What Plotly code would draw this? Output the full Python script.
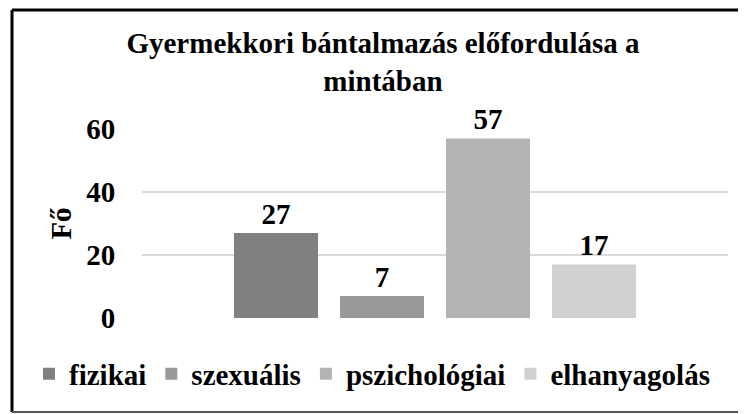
import plotly.graph_objects as go

categories = [""]
series_names = ["fizikai", "szexuális", "pszichológiai", "elhanyagolás"]
series_values = [27, 7, 57, 17]
series_colors = ["#808080", "#999999", "#b3b3b3", "#d0d0d0"]
y_ticks = [0, 20, 40, 60]

# page body margin offsets the figure by 8px; work in screen pixels
OFF = 8
SW, SH = 746, 414
W, H = SW - OFF, SH - OFF
plot_left, plot_right, plot_top, plot_bottom = 142, 728, 129, 318
L, R = plot_left - OFF, SW - plot_right
T, B = plot_top - OFF, SH - plot_bottom
pw, ph = W - L - R, H - T - B

def px_x(p):
    return (p - plot_left) / pw

def px_y(p):
    return (plot_bottom - p) / ph

FONT = "Liberation Serif, Times New Roman, serif"

fig = go.Figure()
for name, val, col in zip(series_names, series_values, series_colors):
    fig.add_trace(go.Bar(
        x=categories, y=[val], name=name,
        marker=dict(color=col, line=dict(width=0)),
        text=[val], texttemplate="%{text}", textposition="outside",
        textfont=dict(family=FONT, size=29, color="black", weight="bold"),
        cliponaxis=False,
    ))

fig.update_layout(
    width=W, height=H,
    margin=dict(l=L, r=R, t=T, b=B, autoexpand=False),
    paper_bgcolor="white", plot_bgcolor="white",
    font=dict(family=FONT, size=29, color="black", weight="bold"),
    barmode="group", bargap=0.2765, bargroupgap=0.2075,
    title=dict(
        text="Gyermekkori bántalmazás előfordulása a<br>mintában",
        font=dict(family=FONT, size=29, color="black", weight="bold"),
        x=(383 - OFF) / W, xref="container", xanchor="center",
        y=1 - 45 / H, yref="container", yanchor="top",
    ),
    showlegend=True,
    legend=dict(
        orientation="h", x=px_x(29), xanchor="left",
        y=px_y(374), yanchor="middle",
        font=dict(family=FONT, size=29, color="black", weight="bold"),
        bgcolor="rgba(0,0,0,0)", itemclick=False,
    ),
    xaxis=dict(showticklabels=False, showgrid=False, zeroline=False,
               showline=False, ticks=""),
    yaxis=dict(
        range=[0, 60], tickvals=y_ticks, showgrid=True, gridcolor="#d9d9d9",
        gridwidth=1.5, zeroline=False, showline=False,
        ticks="outside", ticklen=20, tickcolor="rgba(0,0,0,0)",
        title=dict(text="Fő", standoff=6,
                   font=dict(family=FONT, size=29, color="black", weight="bold")),
    ),
    shapes=[
        dict(type="line", xref="paper", yref="paper",
             x0=px_x(12), x1=px_x(12), y0=px_y(10), y1=px_y(412),
             line=dict(color="black", width=3)),
        dict(type="line", xref="paper", yref="paper",
             x0=px_x(12), x1=px_x(760), y0=px_y(10), y1=px_y(10),
             line=dict(color="black", width=3)),
        dict(type="line", xref="paper", yref="paper",
             x0=px_x(12), x1=px_x(760), y0=px_y(412), y1=px_y(412),
             line=dict(color="#555555", width=2)),
    ],
)

fig.write_html("out.html")
